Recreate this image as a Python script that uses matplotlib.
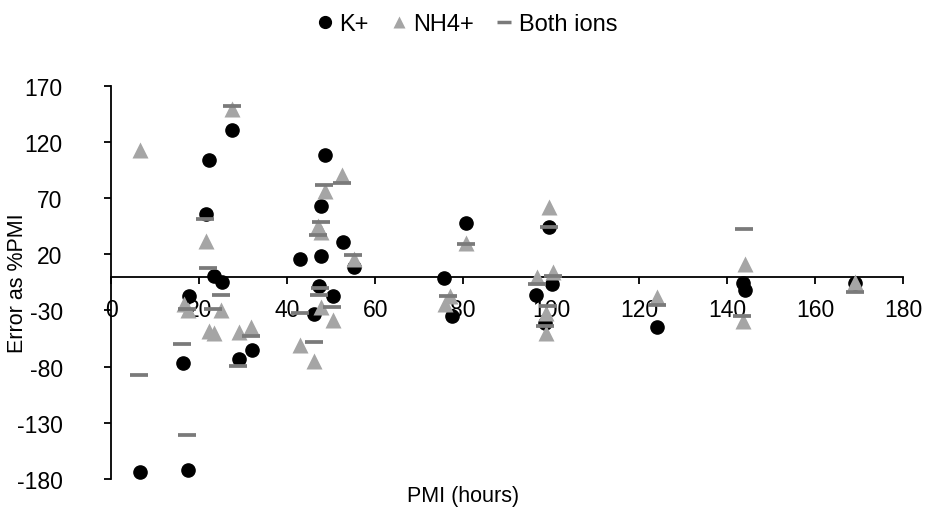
import matplotlib.pyplot as plt
from matplotlib.lines import Line2D

plt.rcParams['font.family'] = ['Liberation Sans', 'DejaVu Sans']
plt.rcParams['axes.unicode_minus'] = False

# PMI (hours) and error as %PMI for each estimator
k_pmi = [6.5, 17.4, 16.2, 17.7, 21.5, 22.3, 27.4, 23.4, 25.1, 29.1, 32.0,
         42.9, 46.1, 47.3, 47.6, 47.6, 48.6, 50.5, 52.6, 55.2, 75.7, 77.4,
         80.6, 96.5, 98.6, 99.5, 100.1, 124.0, 143.7, 144.1, 169.2]
k_err = [-174, -172, -77, -17, 56, 104, 131, 0.5, -4.4, -73, -65.5,
         16, -33, -8, 18.4, 63, 108, -17, 30.6, 8.4, -1, -35,
         48, -16, -41, 44, -6.5, -45, -6, -12, -6]

nh4_pmi = [6.5, 16.5, 17.5, 21.5, 22.3, 23.4, 24.9, 27.4, 29.0, 31.7,
           42.9, 46.1, 47.1, 47.6, 47.6, 48.6, 50.3, 52.4, 55.1, 75.8,
           77.0, 80.6, 96.7, 98.8, 98.8, 99.5, 100.5, 124.0, 144.0, 143.6,
           169.2]
nh4_err = [113, -24, -30, 32, -48, -50, -30, 149, -49.5, -45,
           -61, -75, 45, 39.5, -27, 76.5, -38.5, 90.5, 15.7, -24,
           -17, 30, -0.6, -32, -50, 62, 4, -18, 11, -39,
           -5]

both_pmi = [6.4, 16.0, 17.2, 17.3, 21.4, 21.9, 23.2, 24.9, 27.4, 28.9,
            31.8, 42.9, 46.0, 47.1, 47.4, 47.3, 47.6, 48.4, 52.5, 50.1,
            55.0, 76.6, 80.6, 96.7, 99.3, 98.6, 99.5, 100.5, 124.0, 143.9,
            143.4, 169.1]
both_err = [-87.5, -60, -28.7, -140.5, 51.6, 7.7, -28.7, -16, 152, -79,
            -52.5, -32.6, -58.4, 37.4, -10.3, -16.3, 49, 82, 83, -26.7,
            19.6, -17, 29, -6.5, -26, -44, 44, 0.5, -25, 42.4,
            -35, -13.3]

FS = 15.5
TICK_FS = 16.5
K_COLOR = 'black'
NH4_COLOR = '#a5a5a5'
BOTH_COLOR = '#7a7a7a'

fig = plt.figure(figsize=(9.29, 5.10), dpi=100)
ax = fig.add_axes([0.1198, 0.0588, 0.8522, 0.7712])

ax.plot(k_pmi, k_err, 'o', color=K_COLOR, ms=9.5, zorder=3)
ax.plot(nh4_pmi, nh4_err, '^', color=NH4_COLOR, ms=12, mec='none', zorder=4)
ax.plot(both_pmi, both_err, '_', color=BOTH_COLOR, ms=13.5, mew=2.7, zorder=5)

ax.set_xlim(0, 180)
ax.set_ylim(-180, 170)
ax.set_xticks(range(0, 181, 20))
ax.set_yticks(range(-180, 171, 50))

ax.spines['top'].set_visible(False)
ax.spines['right'].set_visible(False)
ax.spines['bottom'].set_position(('data', 0))
ax.spines['bottom'].set_linewidth(1.3)
ax.spines['left'].set_linewidth(1.3)
ax.tick_params(axis='x', direction='out', length=5, width=1.3, pad=10, labelsize=TICK_FS)
ax.tick_params(axis='y', direction='out', length=5, width=1.3, pad=30, labelsize=TICK_FS)

fig.text(18 / 929, 0.445, 'Error as %PMI', rotation=90, fontsize=FS,
         ha='center', va='center')
fig.text(463 / 929, 1 - 497 / 510, 'PMI (hours)', fontsize=FS,
         ha='center', va='center')

handles = [
    Line2D([], [], ls='none', marker='o', color=K_COLOR, ms=8.5),
    Line2D([], [], ls='none', marker='^', color=NH4_COLOR, mec='none', ms=9),
    Line2D([], [], ls='none', marker='_', color=BOTH_COLOR, ms=9.5, mew=2.5),
]
fig.legend(handles, ['K+', 'NH4+', 'Both ions'], loc='center',
           bbox_to_anchor=(0.503, 1 - 25 / 510), ncol=3, frameon=False,
           fontsize=17, handlelength=0.6, handletextpad=0.3,
           columnspacing=1.0)

plt.savefig('out.png', dpi=100)
